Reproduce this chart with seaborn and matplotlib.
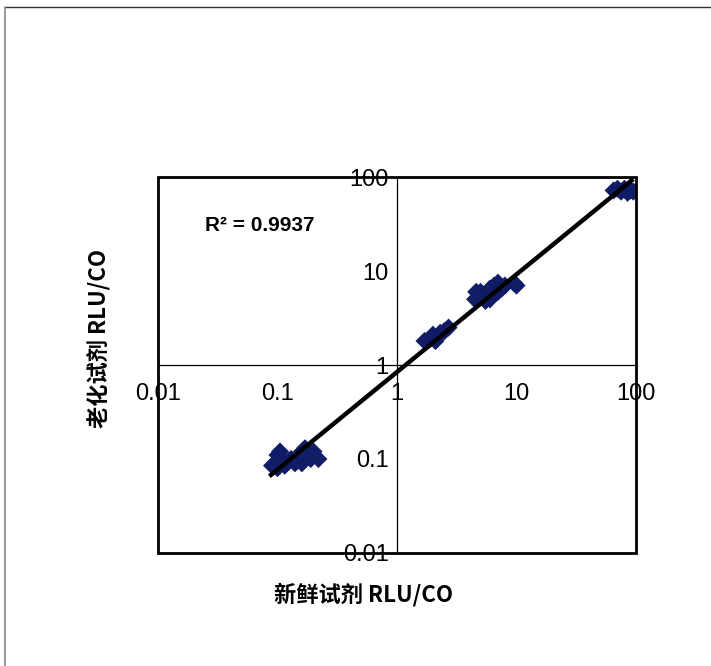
import numpy as np
import pandas as pd
import seaborn as sns
import matplotlib.pyplot as plt
from matplotlib.lines import Line2D
from matplotlib.patches import Rectangle

sns.set_style('white')
plt.rcParams['font.family'] = ['Liberation Sans', 'Noto Sans CJK SC', 'DejaVu Sans']
plt.rcParams['text.color'] = 'black'

# fresh reagent RLU/CO (x) vs aged reagent RLU/CO (y)
fresh = [0.09, 0.095, 0.1, 0.105, 0.11, 0.115, 0.12, 0.13, 0.14, 0.15,
         0.16, 0.17, 0.18, 0.19, 0.2, 0.22, 0.1, 0.16, 0.125, 0.175,
         1.7, 1.9, 2.0, 2.2, 2.3, 2.5, 2.7, 2.1,
         4.5, 5.0, 5.5, 6.0, 6.0, 6.5, 7.0, 7.0, 7.5, 8.0, 5.0, 9.5, 10.0, 5.5, 4.6,
         65, 75, 80, 85, 90, 95, 70]
aged = [0.085, 0.09, 0.08, 0.12, 0.1, 0.085, 0.09, 0.1, 0.09, 0.1,
        0.12, 0.13, 0.11, 0.1, 0.12, 0.1, 0.11, 0.09, 0.095, 0.12,
        1.8, 1.9, 2.1, 2.0, 2.2, 2.3, 2.5, 1.8,
        5.0, 6.0, 5.5, 6.5, 5.0, 7.0, 6.0, 7.5, 6.5, 7.0, 5.5, 7.5, 7.0, 4.8, 6.0,
        72, 70, 75, 68, 72, 70, 75]
r2_text = 'R² = 0.9937'
ticks = [0.01, 0.1, 1, 10, 100]
tick_labels = ['0.01', '0.1', '1', '10', '100']

df = pd.DataFrame({'fresh': fresh, 'aged': aged})

fig = plt.figure(figsize=(7.11, 6.66), dpi=100)
ax = fig.add_axes([0.2222, 0.1697, 0.6723, 0.5645])

sns.scatterplot(data=df, x='fresh', y='aged', marker='D', s=85,
                color='#111c66', edgecolor='none', ax=ax, zorder=3)

# power trendline fitted in log space
lx, ly = np.log10(df['fresh']), np.log10(df['aged'])
k, b = np.polyfit(lx, ly, 1)
xs = np.array([min(fresh) * 0.95, max(fresh)])
ax.plot(xs, 10 ** (k * np.log10(xs) + b), color='black', lw=3.2, zorder=4,
        solid_capstyle='butt')

ax.set_xscale('log')
ax.set_yscale('log')
ax.set_xlim(0.01, 100)
ax.set_ylim(0.01, 100)

# axes cross at (1, 1)
ax.spines['left'].set_position(('data', 1))
ax.spines['bottom'].set_position(('data', 1))
ax.spines['right'].set_visible(False)
ax.spines['top'].set_visible(False)
for s in ['left', 'bottom']:
    ax.spines[s].set_linewidth(0.9)
    ax.spines[s].set_color('black')

ax.set_xticks(ticks)
ax.set_xticklabels(tick_labels)
ax.set_yticks(ticks)
ax.set_yticklabels(tick_labels)
ax.minorticks_off()
ax.tick_params(axis='x', direction='in', length=5, width=0.9, labelsize=17,
               pad=13, colors='black')
ax.tick_params(axis='y', direction='out', length=5, width=0.9, labelsize=17,
               pad=1, colors='black')
ax.set_xlabel('')
ax.set_ylabel('')

# plot-area frame
ax.add_patch(Rectangle((0, 0), 1, 1, transform=ax.transAxes, fill=False,
                       lw=2, edgecolor='black', clip_on=False, zorder=5))

ax.text(0.098, 0.87, r2_text, transform=ax.transAxes, fontsize=15,
        fontweight='bold', va='center', ha='left')

fig.text(363 / 711, 1 - 595 / 666, '新鲜试剂 RLU/CO', ha='center', va='center',
         fontsize=16, fontweight='bold', family=['Noto Sans CJK SC', 'DejaVu Sans'])
fig.text(100 / 711, 1 - 338 / 666, '老化试剂 RLU/CO', ha='center', va='center',
         rotation=90, fontsize=16, fontweight='bold',
         family=['Noto Sans CJK SC', 'DejaVu Sans'])

# figure border (top and left edges)
fig.add_artist(Line2D([5 / 711, 1], [1 - 7 / 666] * 2, color='#333333', lw=1))
fig.add_artist(Line2D([5 / 711] * 2, [0, 1 - 7 / 666], color='#888888', lw=1.2))

fig.savefig('out.png', dpi=100)
